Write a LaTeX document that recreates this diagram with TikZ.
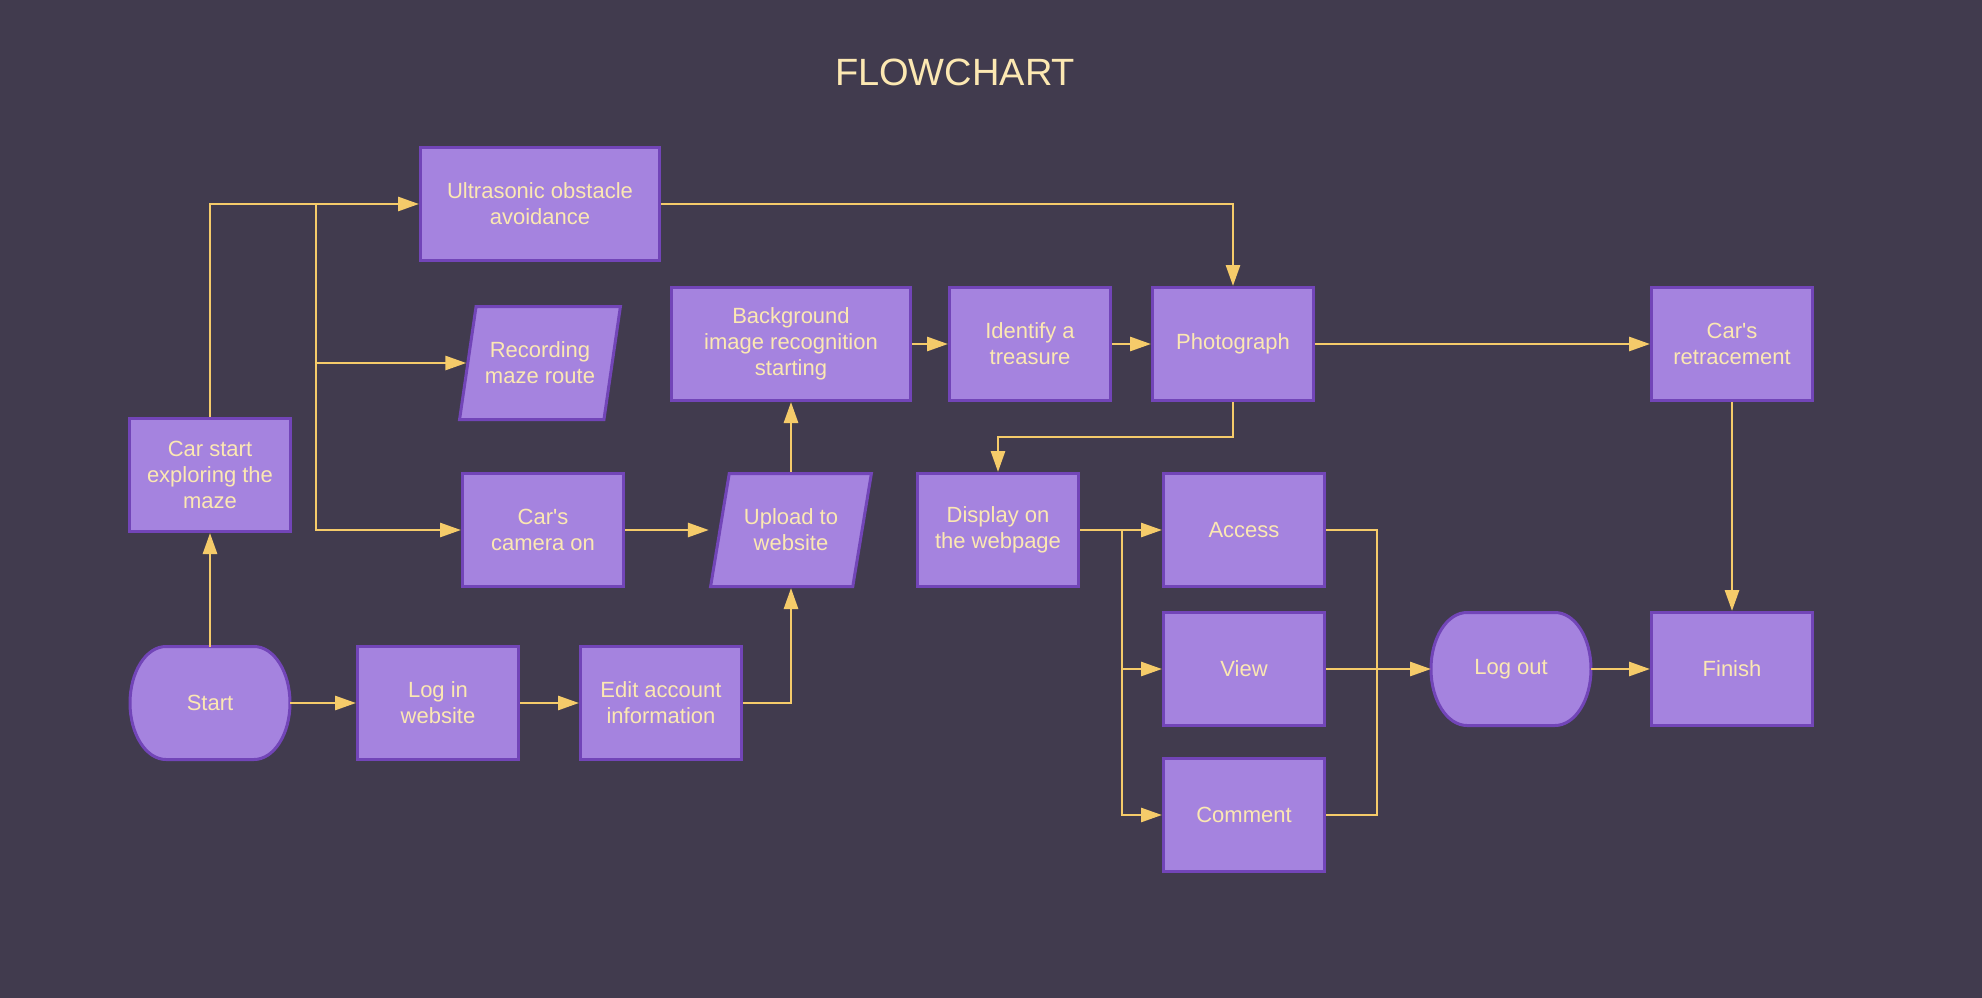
\documentclass[tikz,border=0pt]{standalone}
\usepackage{fontspec}
\setmainfont{Liberation Sans}
\usepackage{tikz}
\usetikzlibrary{arrows.meta, positioning, shapes.geometric, calc, backgrounds}

\definecolor{bgdark}{HTML}{413B4E}
\definecolor{boxfill}{HTML}{A583DF}
\definecolor{boxline}{HTML}{7245B8}
\definecolor{textcream}{HTML}{FCE8B2}
\definecolor{flowyellow}{HTML}{F5CB6A}

\tikzset{
	box/.style={rectangle, draw=boxline, fill=boxfill, line width=3pt, minimum width=161pt, minimum height=113pt, inner sep=0pt, align=center, text=textcream, font=\fontsize{22}{26}\selectfont},
	widebox/.style={box, minimum width=239pt},
	iobox/.style={box, trapezium, trapezium left angle=71.4, trapezium right angle=108.6, trapezium stretches=true},
	termnode/.style={box, draw=none, fill=none, minimum width=160pt, outer sep=0pt},
	termline/.style={draw=boxline, fill=boxfill, line width=3pt},
	flow/.style={draw=flowyellow, line width=2.8pt, -{Triangle[length=21pt,width=14pt]}},
	link/.style={draw=flowyellow, line width=2.8pt},
}

\begin{document}
\begin{tikzpicture}[x=1pt, y=-1pt]
			\useasboundingbox (0,0) rectangle (1982,998);
			
			% Title
			\node[text=textcream, font=\fontsize{38}{44}\selectfont] (title) at (955,72) {FLOWCHART};
			
			% Car side
			\node[box] (carstart) at (210,475) {Car start\\exploring the\\maze};
			\node[widebox] (ultra) at (540,204) {Ultrasonic obstacle\\avoidance};
			\node[iobox] (record) at (540,363) {Recording\\maze route};
			\node[box] (camera) at (543,530) {Car\textquotesingle s\\camera on};
			\node[iobox] (upload) at (791,530) {Upload to\\website};
			
			% Recognition row
			\node[widebox] (backgr) at (791,344) {Background\\image recognition\\starting};
			\node[box] (identify) at (1030,344) {Identify a\\treasure};
			\node[box] (photo) at (1233,344) {Photograph};
			\node[box] (retrace) at (1732,344) {Car\textquotesingle s\\retracement};
			
			% Webpage part
			\node[box] (display) at (998,530) {Display on\\the webpage};
			\node[box] (access) at (1244,530) {Access};
			\node[box] (view) at (1244,669) {View};
			\node[box] (comment) at (1244,815) {Comment};
			\node[termnode] (logout) at (1511,669) {Log out};
			\node[box] (finish) at (1732,669) {Finish};
			
			% Website row
			\node[termnode] (start) at (210,703) {Start};
			\node[box] (login) at (438,703) {Log in\\website};
			\node[box] (edit) at (661,703) {Edit account\\information};
			
			% Background and terminal shapes
			\begin{pgfonlayer}{background}
				\fill[bgdark] (0,0) rectangle (1982,998);
				\foreach \n in {start,logout}
				\draw[termline] ([xshift=36pt]\n.north west) -- ([xshift=-36pt]\n.north east)
				arc[start angle=90, end angle=-90, x radius=36pt, y radius=56.5pt]
				-- ([xshift=36pt]\n.south west)
				arc[start angle=270, end angle=90, x radius=36pt, y radius=56.5pt] -- cycle;
			\end{pgfonlayer}
			
			% Connectors from the car
			\coordinate (split) at (316,204);
			\draw[flow] (start) -- (carstart);
			\draw[flow] (carstart.north) |- (ultra.west);
			\draw[flow] (split |- record.left side) -- (record.left side);
			\draw[flow] (split) |- (camera.west);
			\draw[flow] (ultra.east) -| (photo.north);
			\draw[flow] (camera.east) -- (camera.east -| upload.bottom left corner);
			
			% Connectors of the website
			\draw[flow] (start) -- (login);
			\draw[flow] (login) -- (edit);
			\draw[flow] (edit.east) -| (upload.south);
			\draw[flow] (upload) -- (backgr);
			\draw[flow] (backgr) -- (identify);
			\draw[flow] (identify) -- (photo);
			\draw[flow] (photo) -- (retrace);
			\draw[flow] (photo.south) |- ($(photo.south)!.5!(display.north)$) -| (display.north);
			
			% Branches to the webpage actions
			\coordinate (fork) at (1122,530);
			\coordinate (join) at (1377,669);
			\draw[flow] (display) -- (access);
			\draw[flow] (fork) |- (view.west);
			\draw[flow] (fork) |- (comment.west);
			\draw[link] (access.east) -| (join);
			\draw[link] (comment.east) -| (join);
			\draw[flow] (view) -- (logout);
			\draw[flow] (logout) -- (finish);
			\draw[flow] (retrace) -- (finish);
		\end{tikzpicture}
\end{document}
